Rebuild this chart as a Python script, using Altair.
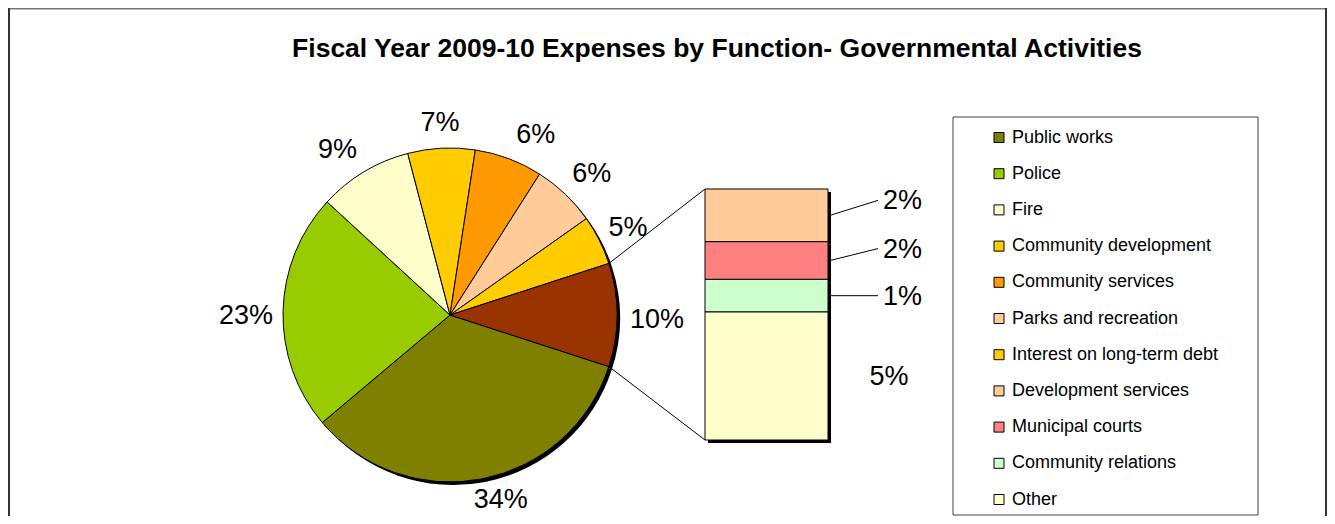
import math
import altair as alt
import pandas as pd

# ---------------- data ----------------
title_text = "Fiscal Year 2009-10 Expenses by Function- Governmental Activities"

pie_names = ["Public works", "Police", "Fire", "Community development",
             "Community services", "Parks and recreation",
             "Interest on long-term debt", "Other functions (combined)"]
pie_values = [33.9, 23.0, 9.1, 6.5, 6.6, 6.2, 4.8, 10.0]
pie_labels = ["34%", "23%", "9%", "7%", "6%", "6%", "5%", "10%"]
pie_colors = ["#808000", "#99CC00", "#FFFFCC", "#FFCC00", "#FF9900",
              "#FFCC99", "#FFCC00", "#993300"]

bar_names = ["Development services", "Municipal courts", "Community relations", "Other"]
bar_values = [2.1, 1.5, 1.3, 5.1]
bar_labels = ["2%", "2%", "1%", "5%"]
bar_colors = ["#FFCC99", "#FF8080", "#CCFFCC", "#FFFFCC"]

legend_names = pie_names[:7] + bar_names

# ---------------- layout (pixels / degrees) ----------------
W, H = 1319, 508
CX, CY, R = 442, 307, 167
BAR_X0, BAR_X1 = 697, 820
BAR_TOP, BAR_BOT = 181, 432
SHADOW = 3
LABEL_NUDGE_PX = [-15, -12, 0, 0]            # Excel moved the two top bar labels upward
PIE_LABEL_ANGLE_NUDGE = [-4.4, -1.0, -3.0, 0.0, 4.7, 1.2, 0.0, 0.8]   # degrees
PIE_LABEL_RADIUS = [190, 204, 201, 194, 201, 201, 199, 207]           # pixels
FONT = "Liberation Sans"

# ---------------- derived ----------------
total = sum(pie_values)
other_frac = pie_values[-1] / total
start = math.radians(90) + other_frac * math.pi        # centre "other" slice at 3 o'clock
theta_scale = alt.Scale(domain=[0, total], range=[start, start + 2 * math.pi])

cum_mid, c = [], 0.0
for v in pie_values:
    cum_mid.append(c + v / 2)
    c += v
units_per_deg = total / 360.0
pie_df = pd.DataFrame({"name": pie_names, "value": pie_values,
                       "label": pie_labels, "idx": list(range(len(pie_names))),
                       "lab_theta": [m + n * units_per_deg for m, n in zip(cum_mid, PIE_LABEL_ANGLE_NUDGE)],
                       "lab_r": PIE_LABEL_RADIUS})

bar_total = sum(bar_values)
y0, y1 = [0.0] * 4, [0.0] * 4
cum = 0.0
for i in reversed(range(len(bar_values))):
    y0[i] = cum
    cum += bar_values[i]
    y1[i] = cum
ppu = (BAR_BOT - BAR_TOP) / bar_total
mid = [(a + b) / 2 for a, b in zip(y0, y1)]
laby = [m - n / ppu for m, n in zip(mid, LABEL_NUDGE_PX)]
bar_df = pd.DataFrame({"name": bar_names, "value": bar_values, "label": bar_labels,
                       "y0": y0, "y1": y1, "mid": mid, "laby": laby,
                       "bidx": list(range(len(bar_names)))})
y_scale = alt.Scale(domain=[0, bar_total], range=[BAR_BOT, BAR_TOP])

color_scale = alt.Scale(domain=pie_names + bar_names, range=pie_colors + bar_colors)
legend = alt.Legend(orient="none", legendX=982, legendY=120.5, title=None,
                    symbolType="square", symbolSize=100, symbolStrokeColor="black",
                    symbolStrokeWidth=1, symbolOpacity=1, labelFontSize=18, labelFont=FONT,
                    labelColor="black", rowPadding=18.2, labelOffset=4, values=legend_names,
                    padding=0, labelLimit=400)
color_enc = alt.Color("name:N", scale=color_scale, legend=legend)

one = pd.DataFrame({"k": [0]})

# frame
frame_top = alt.Chart(one).mark_rule(color="#777777", strokeWidth=1.5).encode(
    x=alt.value(1), x2=alt.value(W - 1), y=alt.value(0.75))
frame_left = alt.Chart(one).mark_rule(color="#333333", strokeWidth=2).encode(
    x=alt.value(1), y=alt.value(0), y2=alt.value(H))
frame_right = alt.Chart(one).mark_rule(color="#333333", strokeWidth=2).encode(
    x=alt.value(W - 1), y=alt.value(0), y2=alt.value(H))

title = alt.Chart(pd.DataFrame({"t": [title_text]})).mark_text(
    font=FONT, fontSize=26.5, fontWeight="bold", color="black", align="center",
    baseline="alphabetic").encode(x=alt.value(709), y=alt.value(48.5), text="t:N")

legend_box = alt.Chart(one).mark_rect(fill="white", stroke="#404040", strokeWidth=1).encode(
    x=alt.value(945), x2=alt.value(1250), y=alt.value(109), y2=alt.value(507))

# pie
theta_enc = alt.Theta("value:Q", stack=True, scale=theta_scale)
pie_shadow = alt.Chart(pie_df).mark_arc(radius=R, color="black").encode(
    theta=theta_enc, order=alt.Order("idx:Q"),
    x=alt.value(CX + SHADOW), y=alt.value(CY + SHADOW))
pie = alt.Chart(pie_df).mark_arc(radius=R, stroke="black", strokeWidth=1).encode(
    theta=theta_enc, order=alt.Order("idx:Q"), color=color_enc,
    x=alt.value(CX), y=alt.value(CY))
pie_text = alt.Chart(pie_df).mark_text(font=FONT, fontSize=27, color="black", dy=2,
                                       align="center", baseline="middle").encode(
    theta=alt.Theta("lab_theta:Q", stack=None, scale=theta_scale),
    radius=alt.Radius("lab_r:Q", scale=None),
    text="label:N", x=alt.value(CX), y=alt.value(CY))

# connectors between the "other" slice and the bar
a_top = start - other_frac * 2 * math.pi
a_bot = start
p_top = (CX + R * math.sin(a_top), CY - R * math.cos(a_top))
p_bot = (CX + R * math.sin(a_bot), CY - R * math.cos(a_bot))
conn_top = alt.Chart(one).mark_rule(color="black", strokeWidth=1).encode(
    x=alt.value(p_top[0]), y=alt.value(p_top[1]), x2=alt.value(BAR_X0), y2=alt.value(BAR_TOP))
conn_bot = alt.Chart(one).mark_rule(color="black", strokeWidth=1).encode(
    x=alt.value(p_bot[0]), y=alt.value(p_bot[1]), x2=alt.value(BAR_X0), y2=alt.value(BAR_BOT))

# bar of pie
bar_shadow = alt.Chart(bar_df).mark_rect(color="black", xOffset=SHADOW, x2Offset=SHADOW,
                                         yOffset=SHADOW, y2Offset=SHADOW).encode(
    x=alt.value(BAR_X0), x2=alt.value(BAR_X1),
    y=alt.Y("y0:Q", scale=y_scale, axis=None), y2="y1:Q")
bar = alt.Chart(bar_df).mark_rect(stroke="black", strokeWidth=1).encode(
    x=alt.value(BAR_X0), x2=alt.value(BAR_X1),
    y=alt.Y("y0:Q", scale=y_scale, axis=None), y2="y1:Q", color=color_enc)
leaders = alt.Chart(bar_df).transform_filter("datum.bidx < 3").mark_rule(
    color="black", strokeWidth=1).encode(
    x=alt.value(BAR_X1 + 2), x2=alt.value(870),
    y=alt.Y("mid:Q", scale=y_scale, axis=None), y2="laby:Q")
bar_text = alt.Chart(bar_df).transform_filter("datum.bidx < 3").mark_text(
    font=FONT, fontSize=27, color="black", align="left", baseline="middle", dy=1).encode(
    x=alt.value(875), y=alt.Y("laby:Q", scale=y_scale, axis=None), text="label:N")
bar_text2 = alt.Chart(bar_df).transform_filter("datum.bidx >= 3").mark_text(
    font=FONT, fontSize=27, color="black", align="center", baseline="middle", dy=1).encode(
    x=alt.value(881), y=alt.Y("laby:Q", scale=y_scale, axis=None), text="label:N")

chart = alt.layer(
    frame_top, frame_left, frame_right, title, legend_box,
    pie_shadow, pie, pie_text, conn_top, conn_bot,
    bar_shadow, bar, leaders, bar_text, bar_text2
).properties(
    width=W, height=H, padding=0, autosize=alt.AutoSizeParams(type="none")
).configure_view(stroke=None).configure(background="white")

chart.save("out.html", embed_options={"renderer": "svg", "actions": False})
